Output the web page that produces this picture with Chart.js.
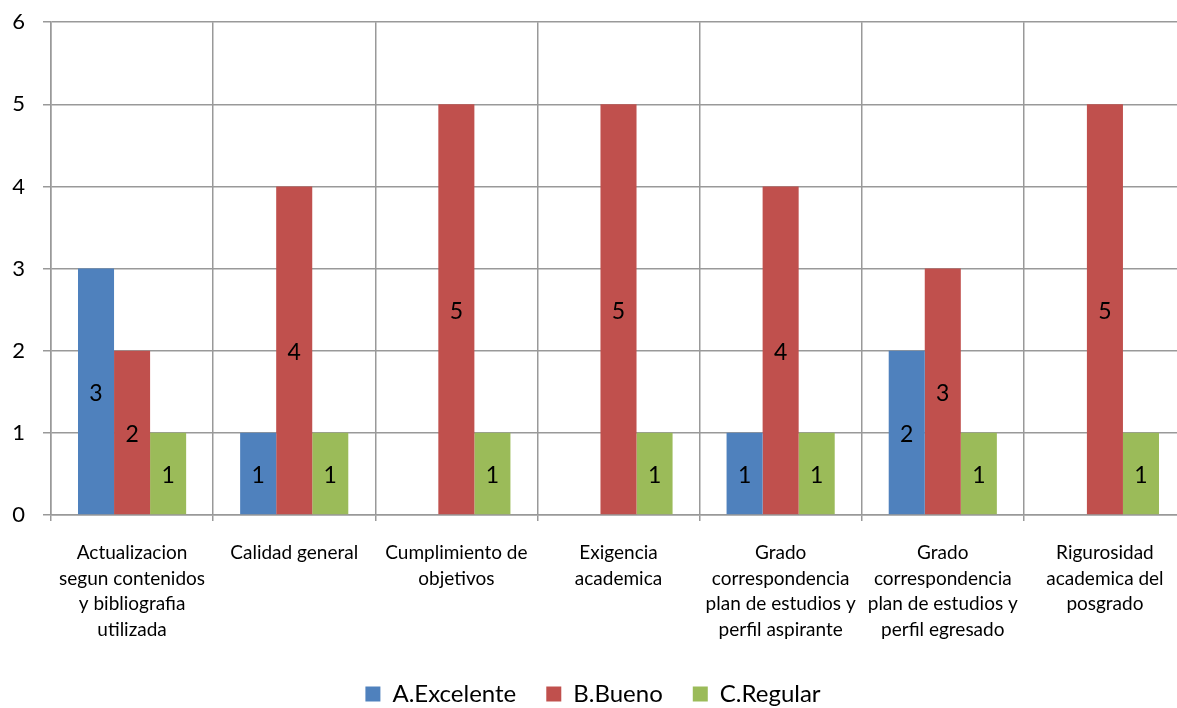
<!DOCTYPE html>
<html>
<head>
<meta charset="utf-8">
<script src="https://cdn.jsdelivr.net/npm/chart.js@4/dist/chart.umd.min.js"></script>
<style>
html,body{margin:0;padding:0;overflow:hidden;background:#fff;width:1177px;height:708px;}
canvas{display:block;margin-top:-9px;}
</style>
</head>
<body>
<canvas id="c" width="1186" height="725"></canvas>
<script>
const categories = [
  ["Actualizacion","segun contenidos","y bibliografia","utilizada"],
  ["Calidad general"],
  ["Cumplimiento de","objetivos"],
  ["Exigencia","academica"],
  ["Grado","correspondencia","plan de estudios y","perfil aspirante"],
  ["Grado","correspondencia","plan de estudios y","perfil egresado"],
  ["Rigurosidad","academica del","posgrado"]
];
const excelente = [3, 1, 0, 0, 1, 2, 0];
const bueno     = [2, 4, 5, 5, 4, 3, 5];
const regular   = [1, 1, 1, 1, 1, 1, 1];
const seriesNames = ["A.Excelente", "B.Bueno", "C.Regular"];
const yTicks = [0, 1, 2, 3, 4, 5, 6];

const FONT = "Lato, 'Open Sans', sans-serif";

const labelPlugin = {
  id: 'barLabels',
  afterDatasetsDraw(chart) {
    const ctx = chart.ctx;
    ctx.save();
    ctx.font = "23px " + FONT;
    ctx.fillStyle = "#000";
    ctx.textAlign = "center";
    ctx.textBaseline = "middle";
    chart.data.datasets.forEach((ds, i) => {
      const meta = chart.getDatasetMeta(i);
      meta.data.forEach((bar, j) => {
        const v = ds.data[j];
        if (!v) return;
        ctx.fillText(String(v), bar.x, (bar.y + bar.base) / 2 + 2);
      });
    });
    ctx.restore();
  }
};

new Chart(document.getElementById('c'), {
  type: 'bar',
  data: {
    labels: categories,
    datasets: [
      { label: seriesNames[0], data: excelente, backgroundColor: '#4F81BD' },
      { label: seriesNames[1], data: bueno, backgroundColor: '#C0504D' },
      { label: seriesNames[2], data: regular, backgroundColor: '#9BBB59' }
    ]
  },
  options: {
    responsive: false,
    animation: false,
    devicePixelRatio: 1,
    layout: { padding: { top: 14, right: 0, bottom: 0, left: 0 } },
    datasets: { bar: { categoryPercentage: 0.667, barPercentage: 1.0 } },
    plugins: {
      legend: {
        position: 'bottom',
        labels: {
          boxWidth: 15, boxHeight: 15, padding: 30,
          color: '#000',
          font: { family: FONT, size: 24 }
        }
      },
      tooltip: { enabled: false }
    },
    scales: {
      x: {
        offset: true,
        grid: { offset: true, color: '#999999', lineWidth: 1.5, tickLength: 6, drawTicks: true },
        border: { color: '#999999', width: 1.5 },
        ticks: { color: '#000', font: { family: FONT, size: 19, lineHeight: 1.35 }, padding: 19, maxRotation: 0, autoSkip: false },
        afterFit(scale) { scale.height = 137; }
      },
      y: {
        min: 0, max: 6,
        afterBuildTicks(scale) { scale.ticks = yTicks.map(v => ({ value: v })); },
        grid: { color: '#999999', lineWidth: 1.5, tickLength: 8 },
        border: { color: '#999999', width: 1.5 },
        ticks: { color: '#000', font: { family: FONT, size: 22 }, padding: 18 },
        afterFit(scale) { scale.width = 51; }
      }
    }
  },
  plugins: [labelPlugin]
});
</script>
</body>
</html>
